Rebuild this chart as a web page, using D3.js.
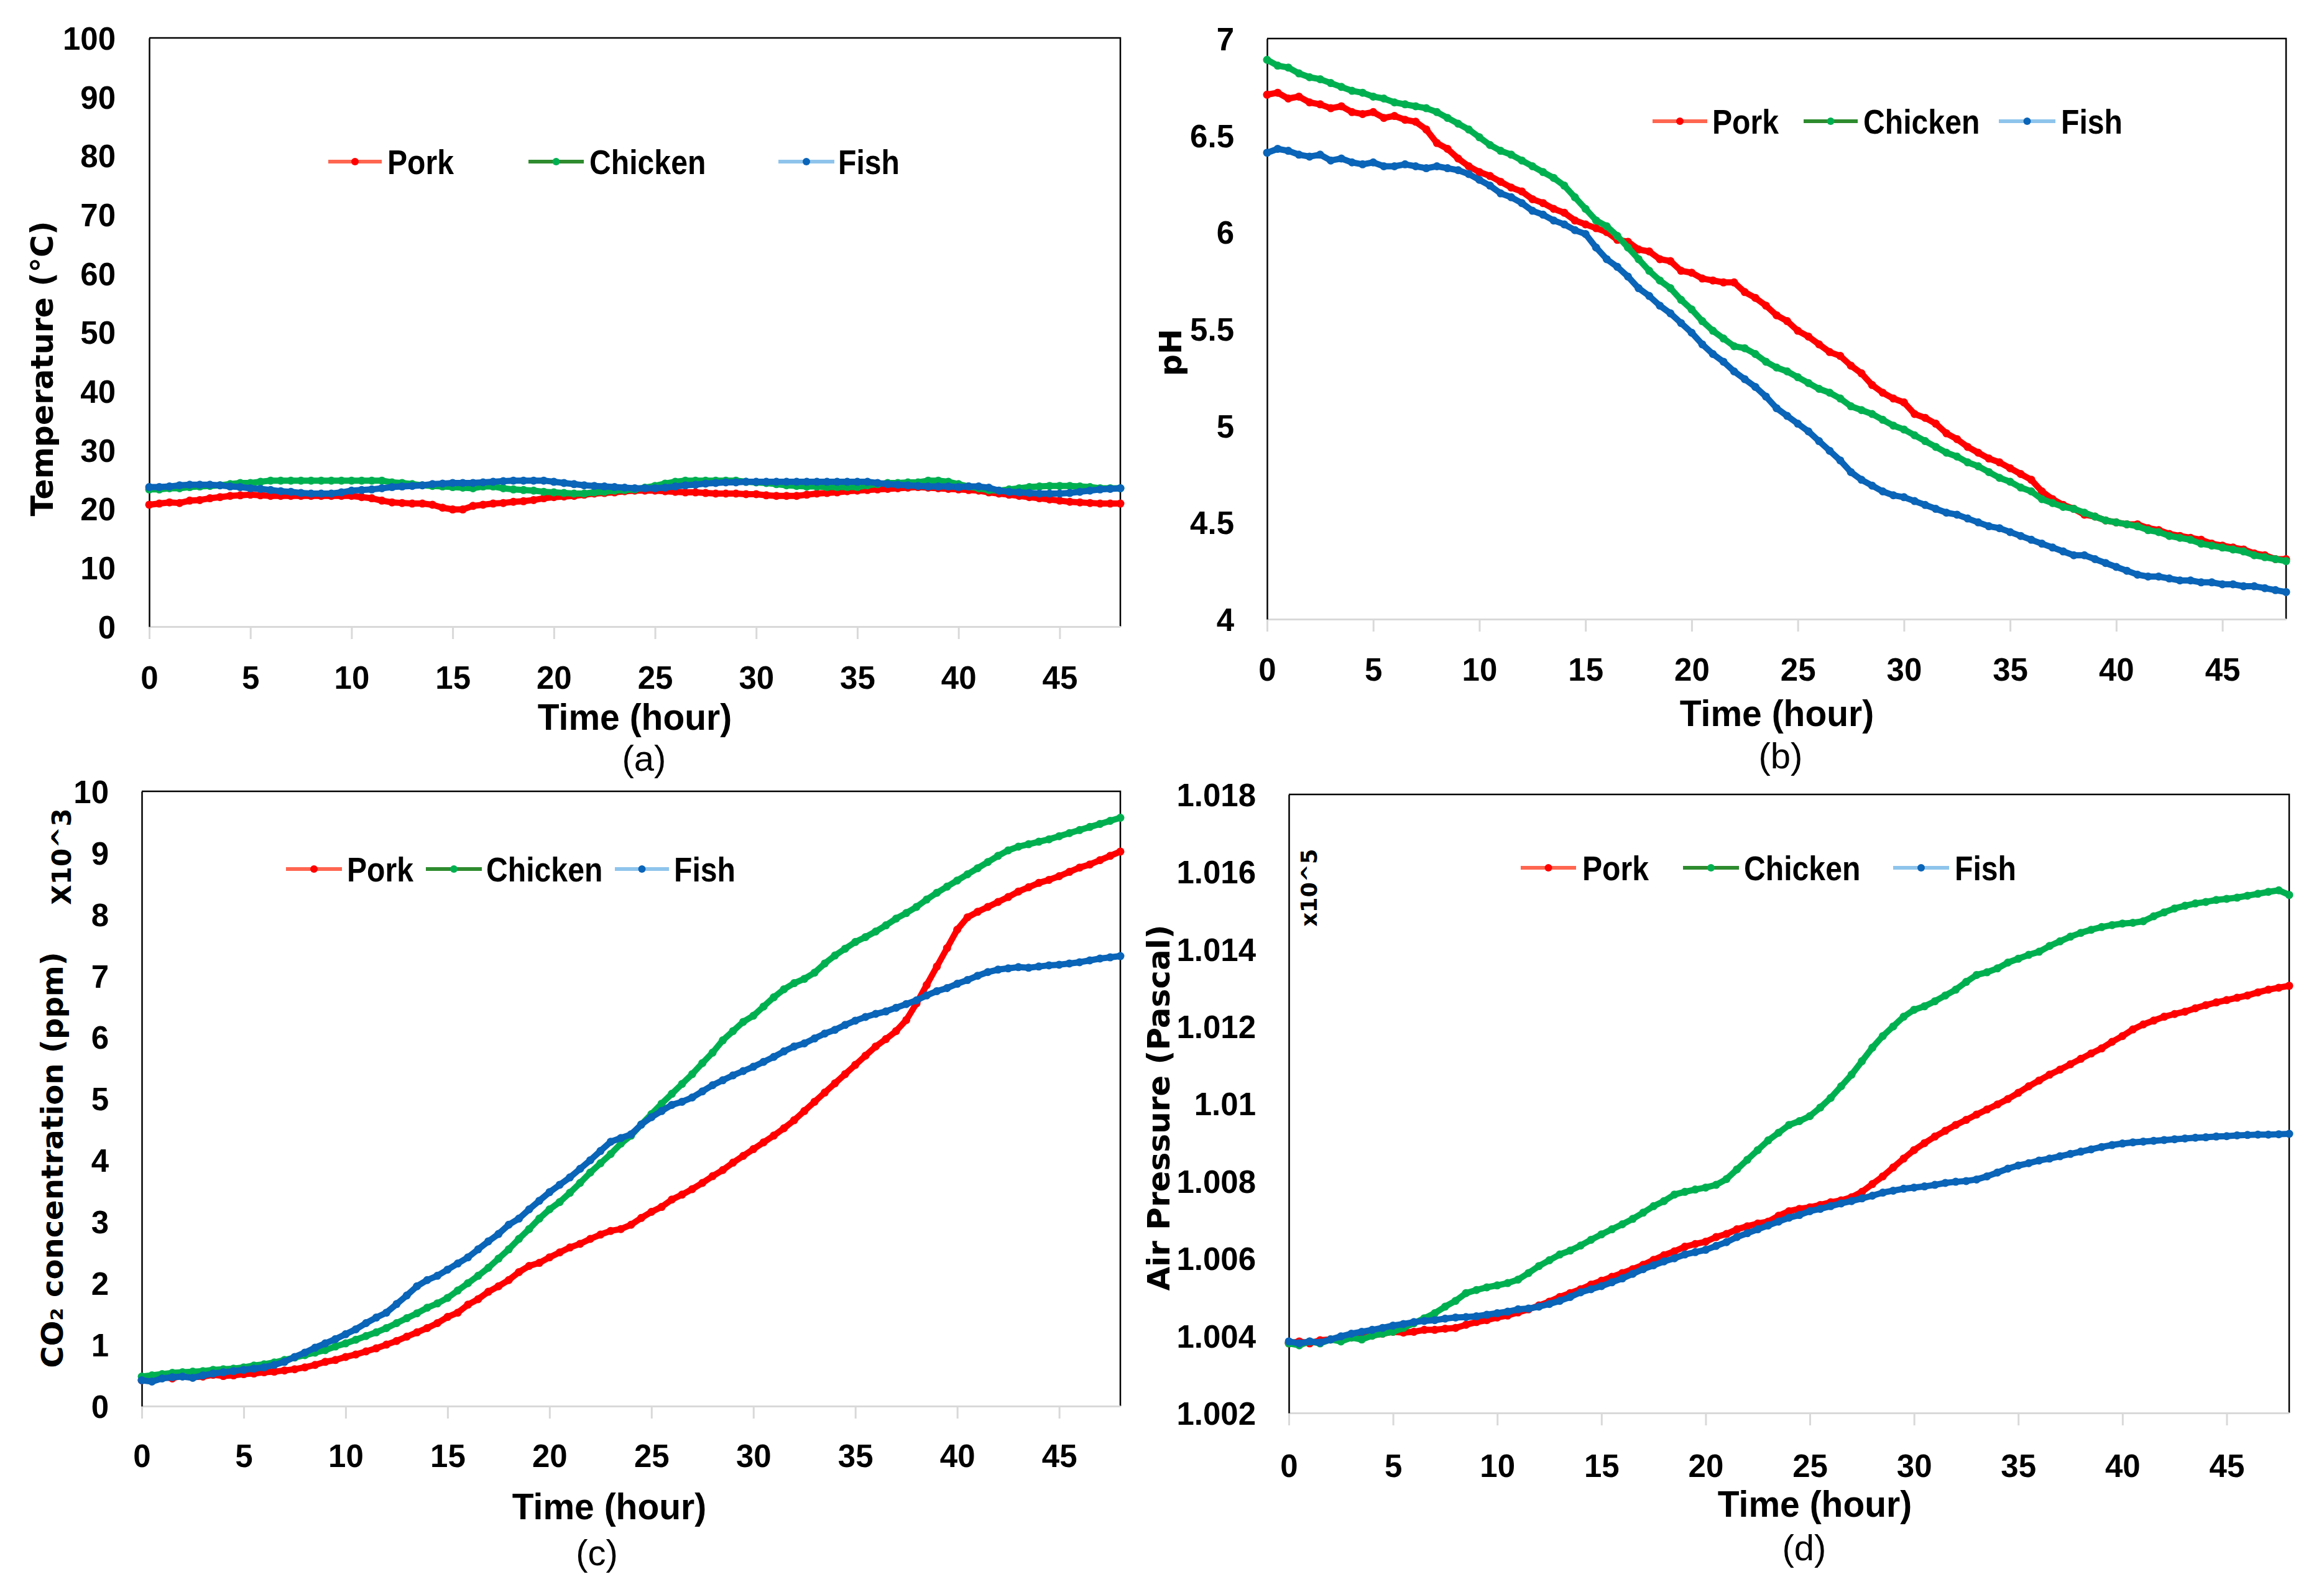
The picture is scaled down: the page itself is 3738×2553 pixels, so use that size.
<!DOCTYPE html>
<html><head><meta charset="utf-8">
<script src="https://cdn.jsdelivr.net/npm/d3@7"></script>
<style>html,body{margin:0;padding:0;background:#fff;} svg{display:block;}</style>
</head><body>
<svg id="chart" width="3738" height="2553"></svg>
<script>
// ---------------- DATA ----------------
const seriesNames = ["Pork", "Chicken", "Fish"];
const hours = d3.range(0, 48.5, 0.5); // sampling instants, 0 .. 48 h every 0.5 h

const timeTicks = [0, 5, 10, 15, 20, 25, 30, 35, 40, 45];
const tempTicks = [0, 10, 20, 30, 40, 50, 60, 70, 80, 90, 100];
const tempTickLabels = ["0","10","20","30","40","50","60","70","80","90","100"];
const phTicks = [4, 4.5, 5, 5.5, 6, 6.5, 7];
const phTickLabels = ["4","4.5","5","5.5","6","6.5","7"];
const co2Ticks = [0, 1, 2, 3, 4, 5, 6, 7, 8, 9, 10];
const co2TickLabels = ["0","1","2","3","4","5","6","7","8","9","10"];
const pressureTicks = [1.002, 1.004, 1.006, 1.008, 1.010, 1.012, 1.014, 1.016, 1.018];
const pressureTickLabels = ["1.002","1.004","1.006","1.008","1.01","1.012","1.014","1.016","1.018"];

// (a) Temperature (°C)
const tempPork = [
20.7,20.9,21.1,21.0,21.4,21.5,21.8,22.0,22.2,22.3,
22.4,22.3,22.2,22.2,22.2,22.2,22.2,22.2,22.2,22.2,
22.2,22.0,21.8,21.4,21.1,21.0,20.9,20.9,20.7,20.2,
19.9,19.9,20.5,20.7,20.9,21.0,21.2,21.3,21.5,21.8,
22.0,22.1,22.2,22.4,22.6,22.7,22.8,23.0,23.1,23.1,
23.1,23.0,22.9,22.8,22.8,22.7,22.6,22.6,22.6,22.5,
22.5,22.3,22.2,22.2,22.2,22.4,22.6,22.7,22.8,23.0,
23.1,23.2,23.3,23.4,23.5,23.6,23.7,23.6,23.5,23.4,
23.3,23.2,23.1,22.8,22.6,22.4,22.2,22.0,21.8,21.6,
21.4,21.2,21.1,21.0,20.9,20.9,20.9];
const tempChicken = [
23.3,23.3,23.5,23.5,23.7,23.8,23.9,24.0,24.2,24.4,
24.4,24.6,24.8,24.8,24.8,24.8,24.8,24.8,24.8,24.8,
24.8,24.8,24.8,24.8,24.5,24.4,24.2,24.0,23.9,23.8,
23.7,23.6,23.5,23.8,23.8,23.5,23.3,23.2,23.1,22.9,
22.8,22.7,22.6,22.6,22.8,22.9,23.1,23.2,23.3,23.6,
23.9,24.3,24.6,24.8,24.8,24.8,24.8,24.8,24.8,24.6,
24.5,24.4,24.2,24.0,23.9,23.8,23.8,23.7,23.7,23.7,
23.7,24.0,24.2,24.4,24.4,24.5,24.5,24.8,24.8,24.6,
24.2,23.8,23.5,23.2,23.1,23.3,23.5,23.7,23.8,23.9,
23.9,23.9,23.8,23.7,23.5,23.5,23.5];
const tempFish = [
23.7,23.7,23.8,24.0,24.1,24.1,24.1,24.0,23.8,23.7,
23.5,23.4,23.2,23.0,22.9,22.7,22.6,22.6,22.6,22.8,
23.1,23.2,23.3,23.5,23.7,23.8,23.9,24.0,24.2,24.3,
24.4,24.4,24.4,24.5,24.6,24.7,24.8,24.8,24.8,24.8,
24.6,24.4,24.2,24.0,23.9,23.8,23.7,23.6,23.5,23.5,
23.5,23.6,23.8,24.0,24.1,24.3,24.4,24.5,24.5,24.6,
24.6,24.6,24.6,24.6,24.6,24.6,24.6,24.6,24.6,24.6,
24.6,24.6,24.4,24.2,24.1,24.0,23.9,23.8,23.8,23.8,
23.7,23.8,23.8,23.6,23.1,22.9,22.8,22.7,22.6,22.6,
22.6,22.7,22.9,23.1,23.3,23.4,23.5];

// (b) pH
const phPork = [
6.71,6.72,6.69,6.70,6.67,6.66,6.64,6.65,6.62,6.61,
6.62,6.59,6.60,6.58,6.57,6.53,6.46,6.43,6.38,6.34,
6.31,6.29,6.26,6.23,6.21,6.17,6.15,6.12,6.10,6.06,
6.04,6.02,6.00,5.96,5.95,5.91,5.90,5.86,5.85,5.80,
5.79,5.76,5.75,5.74,5.74,5.69,5.66,5.62,5.57,5.54,
5.49,5.46,5.42,5.38,5.36,5.31,5.27,5.21,5.17,5.14,
5.12,5.06,5.04,5.01,4.96,4.93,4.89,4.86,4.83,4.81,
4.78,4.75,4.72,4.66,4.62,4.59,4.57,4.54,4.53,4.51,
4.50,4.49,4.49,4.47,4.46,4.44,4.43,4.42,4.41,4.39,
4.38,4.37,4.36,4.34,4.33,4.31,4.31];
const phChicken = [
6.89,6.86,6.85,6.82,6.80,6.79,6.77,6.75,6.73,6.72,
6.70,6.69,6.67,6.66,6.65,6.64,6.62,6.59,6.56,6.53,
6.49,6.45,6.42,6.40,6.37,6.34,6.31,6.28,6.24,6.18,
6.12,6.06,6.03,5.98,5.92,5.86,5.80,5.75,5.71,5.65,
5.60,5.54,5.49,5.45,5.41,5.40,5.37,5.33,5.30,5.28,
5.25,5.22,5.19,5.17,5.14,5.10,5.08,5.06,5.03,5.00,
4.98,4.95,4.92,4.89,4.86,4.84,4.81,4.79,4.76,4.73,
4.71,4.68,4.66,4.62,4.60,4.58,4.57,4.55,4.53,4.51,
4.50,4.49,4.48,4.46,4.45,4.43,4.42,4.41,4.39,4.38,
4.37,4.36,4.35,4.33,4.32,4.31,4.30];
const phFish = [
6.41,6.43,6.42,6.40,6.39,6.40,6.37,6.38,6.36,6.35,
6.36,6.34,6.34,6.35,6.34,6.33,6.34,6.33,6.32,6.30,
6.27,6.24,6.20,6.18,6.15,6.11,6.09,6.06,6.04,6.01,
5.99,5.92,5.86,5.82,5.77,5.71,5.67,5.62,5.58,5.53,
5.48,5.42,5.37,5.33,5.28,5.24,5.20,5.15,5.09,5.05,
5.01,4.97,4.92,4.87,4.82,4.76,4.72,4.69,4.66,4.64,
4.63,4.61,4.59,4.57,4.55,4.54,4.52,4.50,4.48,4.47,
4.45,4.43,4.41,4.39,4.37,4.35,4.33,4.33,4.31,4.29,
4.27,4.25,4.23,4.22,4.22,4.21,4.20,4.20,4.19,4.19,
4.18,4.18,4.17,4.17,4.16,4.15,4.14];

// (c) CO2 concentration (ppm, x10^3)
const co2Pork = [
0.42,0.46,0.48,0.45,0.50,0.47,0.48,0.51,0.49,0.50,
0.52,0.53,0.55,0.56,0.58,0.60,0.63,0.67,0.72,0.75,
0.80,0.84,0.89,0.94,1.00,1.06,1.13,1.20,1.27,1.35,
1.45,1.52,1.65,1.74,1.86,1.95,2.05,2.18,2.28,2.33,
2.42,2.50,2.58,2.64,2.72,2.79,2.85,2.88,2.95,3.06,
3.16,3.24,3.36,3.44,3.53,3.63,3.74,3.84,3.96,4.07,
4.18,4.29,4.40,4.52,4.65,4.80,4.95,5.10,5.25,5.40,
5.55,5.70,5.85,5.97,6.10,6.28,6.55,6.85,7.15,7.45,
7.75,7.95,8.04,8.12,8.20,8.28,8.37,8.44,8.51,8.56,
8.62,8.69,8.76,8.81,8.88,8.95,9.02];
const co2Chicken = [
0.48,0.50,0.52,0.54,0.55,0.56,0.57,0.59,0.60,0.61,
0.63,0.66,0.68,0.71,0.75,0.79,0.83,0.87,0.91,0.97,
1.02,1.08,1.14,1.20,1.27,1.35,1.43,1.51,1.60,1.67,
1.76,1.88,2.00,2.12,2.25,2.40,2.55,2.72,2.88,3.05,
3.20,3.32,3.47,3.63,3.80,3.95,4.10,4.27,4.40,4.58,
4.75,4.92,5.08,5.24,5.40,5.58,5.75,5.95,6.10,6.25,
6.35,6.50,6.65,6.78,6.88,6.95,7.05,7.20,7.33,7.44,
7.55,7.63,7.72,7.82,7.93,8.02,8.12,8.24,8.35,8.45,
8.55,8.65,8.75,8.85,8.95,9.04,9.10,9.14,9.18,9.22,
9.27,9.32,9.37,9.42,9.47,9.52,9.57];
const co2Fish = [
0.42,0.40,0.45,0.47,0.48,0.46,0.50,0.53,0.55,0.57,
0.59,0.61,0.63,0.67,0.72,0.80,0.87,0.95,1.02,1.09,
1.17,1.25,1.35,1.44,1.52,1.66,1.80,1.95,2.05,2.12,
2.22,2.32,2.42,2.55,2.68,2.80,2.95,3.05,3.20,3.34,
3.48,3.60,3.72,3.86,4.00,4.15,4.30,4.36,4.42,4.58,
4.70,4.80,4.90,4.95,5.02,5.12,5.22,5.30,5.38,5.45,
5.52,5.60,5.68,5.77,5.85,5.90,5.98,6.06,6.12,6.20,
6.27,6.33,6.38,6.42,6.48,6.54,6.60,6.68,6.75,6.80,
6.87,6.93,7.00,7.06,7.10,7.12,7.14,7.13,7.15,7.17,
7.18,7.20,7.22,7.25,7.28,7.30,7.32];

// (d) Air pressure (Pascal, x10^5)
const pressPork = [
1.00380,1.00385,1.00380,1.00388,1.00390,1.00392,1.00395,1.00400,1.00400,1.00405,
1.00410,1.00408,1.00410,1.00415,1.00415,1.00418,1.00420,1.00428,1.00435,1.00440,
1.00447,1.00452,1.00460,1.00468,1.00478,1.00488,1.00500,1.00510,1.00520,1.00532,
1.00542,1.00552,1.00562,1.00572,1.00583,1.00596,1.00608,1.00618,1.00630,1.00637,
1.00643,1.00655,1.00663,1.00675,1.00683,1.00690,1.00695,1.00710,1.00722,1.00728,
1.00732,1.00738,1.00745,1.00750,1.00758,1.00772,1.00792,1.00812,1.00835,1.00858,
1.00880,1.00898,1.00915,1.00930,1.00945,1.00958,1.00972,1.00985,1.00998,1.01012,
1.01028,1.01045,1.01060,1.01075,1.01088,1.01102,1.01116,1.01130,1.01143,1.01160,
1.01175,1.01192,1.01205,1.01215,1.01225,1.01232,1.01238,1.01247,1.01255,1.01262,
1.01268,1.01274,1.01280,1.01288,1.01295,1.01300,1.01305];
const pressChicken = [
1.00380,1.00375,1.00385,1.00380,1.00390,1.00385,1.00395,1.00390,1.00400,1.00405,
1.00410,1.00420,1.00432,1.00445,1.00458,1.00475,1.00490,1.00510,1.00518,1.00525,
1.00530,1.00536,1.00545,1.00562,1.00580,1.00595,1.00610,1.00620,1.00633,1.00648,
1.00662,1.00675,1.00688,1.00702,1.00718,1.00735,1.00748,1.00765,1.00772,1.00778,
1.00783,1.00790,1.00805,1.00830,1.00855,1.00880,1.00905,1.00925,1.00945,1.00955,
1.00968,1.00990,1.01015,1.01045,1.01075,1.01110,1.01145,1.01175,1.01200,1.01225,
1.01243,1.01252,1.01265,1.01280,1.01295,1.01315,1.01333,1.01340,1.01350,1.01365,
1.01375,1.01385,1.01393,1.01408,1.01420,1.01432,1.01442,1.01450,1.01457,1.01462,
1.01466,1.01468,1.01472,1.01485,1.01495,1.01505,1.01512,1.01518,1.01522,1.01527,
1.01530,1.01533,1.01538,1.01543,1.01548,1.01552,1.01540];
const pressFish = [
1.00385,1.00380,1.00385,1.00382,1.00390,1.00398,1.00405,1.00410,1.00415,1.00420,
1.00426,1.00430,1.00435,1.00438,1.00440,1.00444,1.00447,1.00448,1.00450,1.00454,
1.00458,1.00462,1.00468,1.00470,1.00475,1.00482,1.00490,1.00500,1.00512,1.00520,
1.00528,1.00538,1.00548,1.00560,1.00572,1.00582,1.00592,1.00600,1.00610,1.00616,
1.00622,1.00632,1.00642,1.00655,1.00665,1.00675,1.00685,1.00695,1.00705,1.00712,
1.00722,1.00728,1.00735,1.00742,1.00748,1.00755,1.00762,1.00770,1.00775,1.00780,
1.00783,1.00786,1.00790,1.00795,1.00798,1.00800,1.00804,1.00812,1.00822,1.00832,
1.00840,1.00846,1.00853,1.00858,1.00864,1.00870,1.00876,1.00882,1.00888,1.00893,
1.00897,1.00900,1.00902,1.00904,1.00906,1.00908,1.00910,1.00912,1.00913,1.00915,
1.00916,1.00918,1.00919,1.00920,1.00920,1.00921,1.00922];

// ---------------- STYLE ----------------
const markerColors = ["#ff0000", "#00b050", "#0a64b8"];
const legendLineColors = ["#ff6650", "#2e8b2e", "#8ec4ec"];
const tickFont = "'Liberation Sans', Arial, sans-serif";
const titleFont = "'DejaVu Sans', Verdana, sans-serif";

const svg = d3.select("#chart");
svg.append("rect").attr("width", 3738).attr("height", 2553).attr("fill", "#fff");

function drawPanel(cfg) {
  const x = d3.scaleLinear().domain([0, 48]).range([cfg.x0, cfg.x1]);
  const y = d3.scaleLinear().domain(cfg.yDomain).range([cfg.y1, cfg.y0]);
  const g = svg.append("g");

  // top & right border
  g.append("path")
    .attr("d", `M${cfg.x0},${cfg.y0}H${cfg.x1}V${cfg.y1}`)
    .attr("fill", "none").attr("stroke", "#000").attr("stroke-width", 2.5);

  // x axis
  const gx = g.append("g").attr("transform", `translate(0,${cfg.y1})`)
    .call(d3.axisBottom(x).tickValues(timeTicks).tickSize(20).tickSizeOuter(0).tickFormat(d3.format("d")));
  gx.select(".domain").attr("stroke", "#d9d9d9").attr("stroke-width", 3);
  gx.selectAll(".tick line").attr("stroke", "#d9d9d9").attr("stroke-width", 3);
  gx.selectAll(".tick text").attr("y", cfg.xLabelY).attr("dy", 0)
    .attr("font-family", tickFont).attr("font-weight", "bold").attr("font-size", 51).attr("fill", "#000");
  gx.attr("font-family", null).attr("font-size", null);

  // y axis
  const gy = g.append("g").attr("transform", `translate(${cfg.x0},0)`)
    .call(d3.axisLeft(y).tickValues(cfg.ticks).tickSize(0).tickSizeOuter(0).tickPadding(cfg.yPad)
      .tickFormat((d, i) => cfg.tickLabels[i]));
  gy.select(".domain").attr("stroke", "#000").attr("stroke-width", 2.5);
  gy.selectAll(".tick text").attr("dy", "0.36em")
    .attr("font-family", tickFont).attr("font-weight", "bold").attr("font-size", 51).attr("fill", "#000");
  gy.attr("font-family", null).attr("font-size", null);

  // series
  const line = d3.line().x((d, i) => x(hours[i])).y(d => y(d));
  cfg.series.forEach((vals, s) => {
    g.append("path").datum(vals).attr("d", line)
      .attr("fill", "none").attr("stroke", markerColors[s]).attr("stroke-width", 10)
      .attr("stroke-linejoin", "round");
    g.append("g").selectAll("circle").data(vals).join("circle")
      .attr("cx", (d, i) => x(hours[i])).attr("cy", d => y(d)).attr("r", 6.5)
      .attr("fill", markerColors[s]);
  });

  // legend
  cfg.legend.forEach((L, s) => {
    g.append("line").attr("x1", L[0]).attr("x2", L[1]).attr("y1", cfg.legendY).attr("y2", cfg.legendY)
      .attr("stroke", legendLineColors[s]).attr("stroke-width", 6);
    g.append("circle").attr("cx", (L[0] + L[1]) / 2).attr("cy", cfg.legendY).attr("r", 6)
      .attr("fill", markerColors[s]);
    g.append("text").attr("transform", `translate(${L[2]},${cfg.legendY + 20}) scale(0.86,1)`)
      .attr("font-family", tickFont).attr("font-weight", "bold").attr("font-size", 56)
      .attr("fill", "#000").text(seriesNames[s]);
  });

  // x title
  g.append("text").attr("transform", `translate(${cfg.xTitle[0]},${cfg.xTitle[1]}) scale(0.95,1)`)
    .attr("text-anchor", "middle").attr("font-family", tickFont).attr("font-weight", "bold")
    .attr("font-size", 60).attr("fill", "#000").text("Time (hour)");
  // panel tag
  g.append("text").attr("x", cfg.tag[0]).attr("y", cfg.tag[1])
    .attr("text-anchor", "middle").attr("font-family", tickFont)
    .attr("font-size", 58).attr("fill", "#000").text(cfg.tag[2]);
  // y titles
  cfg.yTitles.forEach(t => {
    g.append("text").attr("transform", `translate(${t[0]},${t[1]}) rotate(-90)`)
      .attr("text-anchor", "middle").attr("font-family", titleFont).attr("font-weight", "bold")
      .attr("font-size", t[2]).attr("fill", "#000").text(t[3]);
  });
}

drawPanel({
  x0: 240, x1: 1802, y0: 61, y1: 1008, yDomain: [0, 100],
  ticks: tempTicks, tickLabels: tempTickLabels, yPad: 54, xLabelY: 100,
  series: [tempPork, tempChicken, tempFish],
  legendY: 260, legend: [[528, 614, 623], [850, 939, 948], [1252, 1342, 1348]],
  xTitle: [1021, 1174], tag: [1036, 1240, "(a)"],
  yTitles: [[85, 593, 49, "Temperature (°C)"]]
});
drawPanel({
  x0: 2038, x1: 3677, y0: 62, y1: 996, yDomain: [4, 7],
  ticks: phTicks, tickLabels: phTickLabels, yPad: 53, xLabelY: 99,
  series: [phPork, phChicken, phFish],
  legendY: 195, legend: [[2658, 2746, 2754], [2901, 2988, 2997], [3215, 3306, 3315]],
  xTitle: [2858, 1168], tag: [2864, 1236, "(b)"],
  yTitles: [[1900, 567, 49, "pH"]]
});
drawPanel({
  x0: 228, x1: 1802, y0: 1273, y1: 2262, yDomain: [0, 10],
  ticks: co2Ticks, tickLabels: co2TickLabels, yPad: 53, xLabelY: 98,
  series: [co2Pork, co2Chicken, co2Fish],
  legendY: 1398, legend: [[460, 550, 558], [685, 775, 782], [989, 1076, 1084]],
  xTitle: [980, 2444], tag: [960, 2518, "(c)"],
  yTitles: [[101, 1866, 48, "CO₂ concentration (ppm)"], [114, 1378, 42, "X10^3"]]
});
drawPanel({
  x0: 2073, x1: 3682, y0: 1278, y1: 2273, yDomain: [1.002, 1.018],
  ticks: pressureTicks, tickLabels: pressureTickLabels, yPad: 53, xLabelY: 103,
  series: [pressPork, pressChicken, pressFish],
  legendY: 1396, legend: [[2446, 2535, 2545], [2707, 2797, 2805], [3045, 3135, 3144]],
  xTitle: [2919, 2440], tag: [2902, 2510, "(d)"],
  yTitles: [[1881, 1782, 50, "Air Pressure (Pascal)"], [2118, 1428, 35, "x10^5"]]
});
</script>
</body></html>
